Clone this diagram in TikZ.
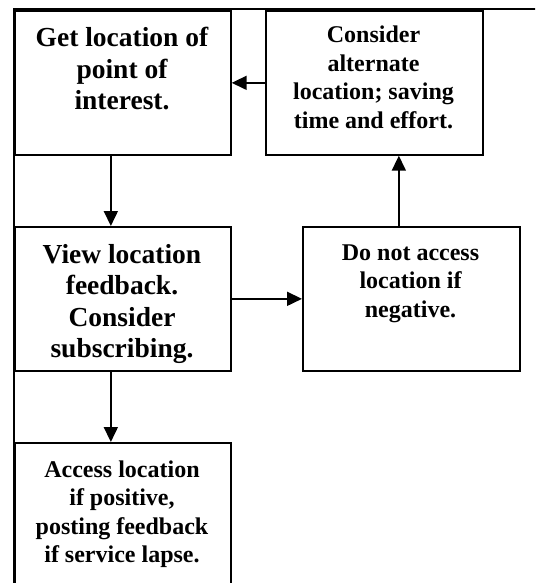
\documentclass[tikz,border=0pt]{standalone}
\usepackage{fontspec}
\setmainfont{Liberation Serif}
\usetikzlibrary{arrows.meta}
\newcommand{\boxtext}[1]{\begin{tabular}[t]{@{}c@{}}#1\end{tabular}}
\tikzset{
  boxnode/.style={draw, line width=1.7pt, rectangle, anchor=north west, inner sep=0pt},
  bigtxt/.style={anchor=base, inner sep=0pt, font=\fontsize{27.5}{31.5}\selectfont\bfseries},
  smalltxt/.style={anchor=base, inner sep=0pt, font=\fontsize{24}{28.5}\selectfont\bfseries},
  arr/.style={line width=1.7pt, -{Triangle[length=15pt,width=14pt]}},
  frameline/.style={line width=1.7pt},
}
\begin{document}
\begin{tikzpicture}[x=1pt,y=-1pt]
\useasboundingbox (0,0) rectangle (535,583);
\clip (0,0) rectangle (535,583);
% boxes
\node[boxnode, minimum width=216pt, minimum height=144pt] (b1) at (14,10) {};
\node[boxnode, minimum width=217pt, minimum height=144pt] (b2) at (265,10) {};
\node[boxnode, minimum width=216pt, minimum height=144pt] (b3) at (14,226) {};
\node[boxnode, minimum width=217pt, minimum height=144pt] (b4) at (302,226) {};
\node[boxnode, minimum width=216pt, minimum height=170pt] (b5) at (14,442) {};
% texts
\node[bigtxt] (t1) at (122,47) {\boxtext{Get location of\\point of\\interest.}};
\node[smalltxt] (t2) at (373.5,43) {\boxtext{Consider\\alternate\\location; saving\\time and effort.}};
\node[bigtxt] (t3) at (122,263) {\boxtext{View location\\feedback.\\Consider\\subscribing.}};
\node[smalltxt] (t4) at (410.5,260) {\boxtext{Do not access\\location if\\negative.}};
\node[smalltxt] (t5) at (122,477) {\boxtext{Access location\\if positive,\\posting feedback\\if service lapse.}};
% frame
\coordinate (fc) at (14,9);
\coordinate (fr) at (540,9);
\coordinate (fb) at (14,590);
\draw[frameline] (fr) -- (fc) -- (fb);
% connectors
\draw[arr] (b2.west) -- (b1.east);
\draw[arr] ([xshift=-12pt]b1.south) -- ([xshift=-12pt]b3.north);
\draw[arr] (b3.east) -- (b4.west);
\draw[arr] ([xshift=-12.5pt]b4.north) -- ([xshift=-12.5pt]b4.north |- b2.south);
\draw[arr] ([xshift=-12pt]b3.south) -- ([xshift=-12pt]b5.north);
\end{tikzpicture}
\end{document}
